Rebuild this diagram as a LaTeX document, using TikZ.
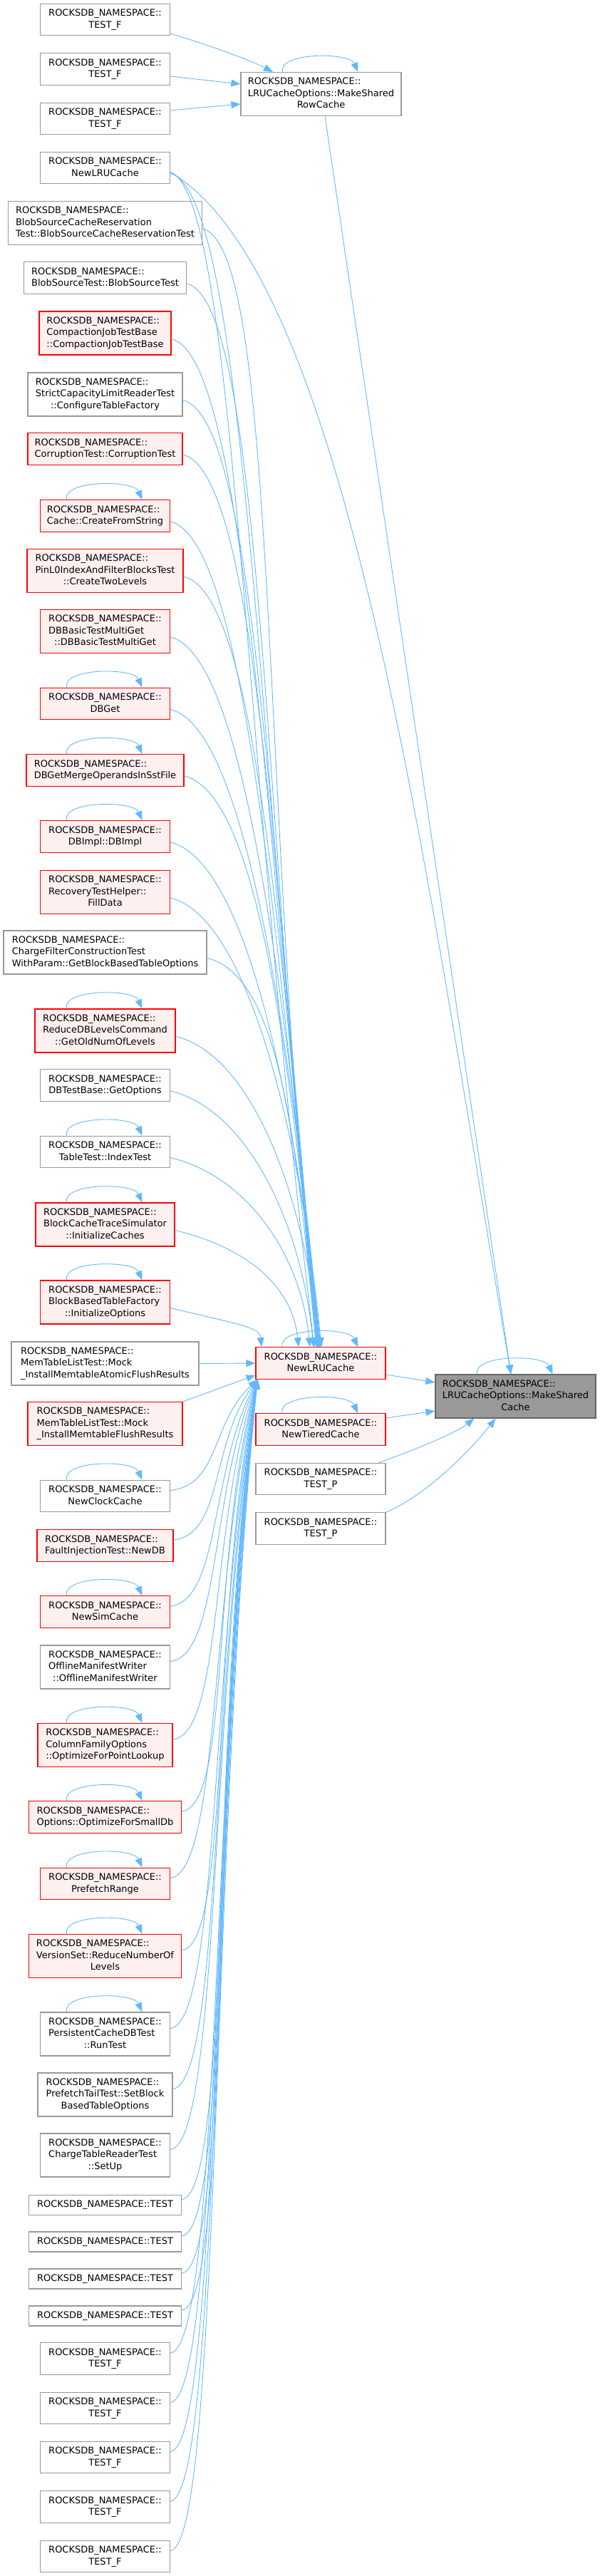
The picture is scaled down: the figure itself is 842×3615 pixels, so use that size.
\documentclass[tikz,border=0pt]{standalone}
\usepackage{fontspec}
\setmainfont{DejaVu Sans}
\usetikzlibrary{arrows.meta, calc}
\definecolor{edgeblue}{HTML}{63B8FF}
\definecolor{boxgray}{HTML}{999999}
\definecolor{maingray}{HTML}{666666}
\definecolor{trunred}{HTML}{FF0000}
\definecolor{trunfill}{HTML}{FFF0F0}

\newcommand{\rns}{ROCKSDB\_NAMESPACE::}
\newcommand{\lone}[1]{\begin{tabular}{@{}c@{}}#1\end{tabular}}
\newcommand{\ltwo}[2]{\begin{tabular}{@{}l@{}}#1\\\multicolumn{1}{@{}c@{}}{#2}\end{tabular}}
\newcommand{\lthree}[3]{\begin{tabular}{@{}l@{}}#1\\#2\\\multicolumn{1}{@{}c@{}}{#3}\end{tabular}}
\newcommand{\selfcall}[1]{\draw[call] ([xshift=-54pt]#1.north) .. controls +(-6,-28) and +(-12,-28) .. ([xshift=52pt]#1.north);}

\begin{document}
\begin{tikzpicture}[x=1pt, y=-1pt,
    fn/.style={draw=boxgray, fill=white, line width=1.1pt, minimum width=182pt,
      inner xsep=3pt, inner ysep=5.75pt, font=\fontsize{13}{16.5}\selectfont},
    cut/.style={fn, draw=trunred, fill=trunfill},
    cur/.style={fn, draw=maingray, fill=boxgray},
    call/.style={draw=edgeblue, line width=0.9pt, -{Triangle[length=13pt, width=10pt]}}]
  \useasboundingbox (0,0) rectangle (842,3615);
  \def\cx{147.5}

  % callers, left column
  \node[fn] (rowtfa) at (\cx,27.5) {\ltwo{\rns}{TEST\_F}};
  \node[fn] (rowtfb) at (\cx,97) {\ltwo{\rns}{TEST\_F}};
  \node[fn] (rowtfc) at (\cx,166.5) {\ltwo{\rns}{TEST\_F}};
  \node[fn] (lruold) at (\cx,235.5) {\ltwo{\rns}{NewLRUCache}};
  \node[fn, minimum width=272pt] (blobres) at (\cx,313) {\lthree{\rns}{BlobSourceCacheReservation}{Test::BlobSourceCacheReservationTest}};
  \node[fn, minimum width=228pt] (blobsrc) at (\cx,390) {\ltwo{\rns}{BlobSourceTest::BlobSourceTest}};
  \node[cut, minimum width=185pt] (compjob) at (\cx,467.5) {\lthree{\rns}{CompactionJobTestBase}{::CompactionJobTestBase}};
  \node[fn, minimum width=217pt] (strictcap) at (\cx,553.5) {\lthree{\rns}{StrictCapacityLimitReaderTest}{::ConfigureTableFactory}};
  \node[cut, minimum width=217pt] (corrupt) at (\cx,630) {\ltwo{\rns}{CorruptionTest::CorruptionTest}};
  \node[cut] (fromstr) at (\cx,724) {\ltwo{\rns}{Cache::CreateFromString}};
  \node[cut, minimum width=219pt] (pinl0) at (\cx,801) {\lthree{\rns}{PinL0IndexAndFilterBlocksTest}{::CreateTwoLevels}};
  \node[cut] (multiget) at (\cx,886) {\lthree{\rns}{DBBasicTestMultiGet}{::DBBasicTestMultiGet}};
  \node[cut] (dbget) at (\cx,987.5) {\ltwo{\rns}{DBGet}};
  \node[cut, minimum width=221pt] (mergeops) at (\cx,1081) {\ltwo{\rns}{DBGetMergeOperandsInSstFile}};
  \node[cut] (dbimpl) at (\cx,1174) {\ltwo{\rns}{DBImpl::DBImpl}};
  \node[cut] (filldata) at (\cx,1252) {\lthree{\rns}{RecoveryTestHelper::}{FillData}};
  \node[fn, minimum width=285pt] (chargefilter) at (\cx,1336.5) {\lthree{\rns}{ChargeFilterConstructionTest}{WithParam::GetBlockBasedTableOptions}};
  \node[cut, minimum width=197pt] (reducedb) at (\cx,1446.5) {\lthree{\rns}{ReduceDBLevelsCommand}{::GetOldNumOfLevels}};
  \node[fn] (getopts) at (\cx,1523) {\ltwo{\rns}{DBTestBase::GetOptions}};
  \node[fn] (indextest) at (\cx,1616.5) {\ltwo{\rns}{TableTest::IndexTest}};
  \node[cut, minimum width=195pt] (initcaches) at (\cx,1718.5) {\lthree{\rns}{BlockCacheTraceSimulator}{::InitializeCaches}};
  \node[cut] (initopts) at (\cx,1827.5) {\lthree{\rns}{BlockBasedTableFactory}{::InitializeOptions}};
  \node[fn, minimum width=263pt] (atomicflush) at (\cx,1913.5) {\lthree{\rns}{MemTableListTest::Mock}{\_InstallMemtableAtomicFlushResults}};
  \node[cut, minimum width=217pt] (flushres) at (\cx,1998) {\lthree{\rns}{MemTableListTest::Mock}{\_InstallMemtableFlushResults}};
  \node[fn] (clockcache) at (\cx,2099.5) {\ltwo{\rns}{NewClockCache}};
  \node[cut, minimum width=191pt] (newdb) at (\cx,2169) {\ltwo{\rns}{FaultInjectionTest::NewDB}};
  \node[cut] (simcache) at (\cx,2262) {\ltwo{\rns}{NewSimCache}};
  \node[fn] (offmanifest) at (\cx,2339.5) {\lthree{\rns}{OfflineManifestWriter}{::OfflineManifestWriter}};
  \node[cut, minimum width=189pt] (pointlookup) at (\cx,2449) {\lthree{\rns}{ColumnFamilyOptions}{::OptimizeForPointLookup}};
  \node[cut, minimum width=214pt] (smalldb) at (\cx,2550) {\ltwo{\rns}{Options::OptimizeForSmallDb}};
  \node[cut] (prefetch) at (\cx,2643.5) {\ltwo{\rns}{PrefetchRange}};
  \node[cut, minimum width=214pt] (reducelevels) at (\cx,2745) {\lthree{\rns}{VersionSet::ReduceNumberOf}{Levels}};
  \node[fn] (runtest) at (\cx,2854.5) {\lthree{\rns}{PersistentCacheDBTest}{::RunTest}};
  \node[fn, minimum width=189pt] (tailtest) at (\cx,2939.5) {\lthree{\rns}{PrefetchTailTest::SetBlock}{BasedTableOptions}};
  \node[fn] (setup) at (\cx,3024.5) {\lthree{\rns}{ChargeTableReaderTest}{::SetUp}};
  \node[fn, minimum width=214pt] (testa) at (\cx,3094.5) {\lone{\rns TEST}};
  \node[fn, minimum width=214pt] (testb) at (\cx,3146) {\lone{\rns TEST}};
  \node[fn, minimum width=214pt] (testc) at (\cx,3198) {\lone{\rns TEST}};
  \node[fn, minimum width=214pt] (testd) at (\cx,3250) {\lone{\rns TEST}};
  \node[fn] (testfa) at (\cx,3310) {\ltwo{\rns}{TEST\_F}};
  \node[fn] (testfb) at (\cx,3379.5) {\ltwo{\rns}{TEST\_F}};
  \node[fn] (testfc) at (\cx,3448.5) {\ltwo{\rns}{TEST\_F}};
  \node[fn] (testfd) at (\cx,3518) {\ltwo{\rns}{TEST\_F}};
  \node[fn] (testfe) at (\cx,3587.5) {\ltwo{\rns}{TEST\_F}};

  % middle and right column
  \node[fn, minimum width=225pt] (rowcache) at (450.5,132) {\lthree{\rns}{LRUCacheOptions::MakeShared}{RowCache}};
  \node[cut] (lru) at (450,1913) {\ltwo{\rns}{NewLRUCache}};
  \node[cut] (tiered) at (450,2006) {\ltwo{\rns}{NewTieredCache}};
  \node[fn] (testpa) at (450,2075.5) {\ltwo{\rns}{TEST\_P}};
  \node[fn] (testpb) at (450,2145) {\ltwo{\rns}{TEST\_P}};
  \node[cur, minimum width=225pt] (main) at (723.5,1959.5) {\lthree{\rns}{LRUCacheOptions::MakeShared}{Cache}};

  % self calls
  \foreach \n in {fromstr, dbget, mergeops, dbimpl, reducedb, indextest, initcaches, initopts,
      clockcache, simcache, pointlookup, smalldb, prefetch, reducelevels, runtest,
      rowcache, lru, tiered, main}
    {\selfcall{\n}}

  % calls into MakeSharedRowCache
  \draw[call] ([yshift=-19.5pt]rowtfa.east) .. controls +(50,15) and +(-35,-18) .. ([xshift=-67.5pt]rowcache.north);
  \draw[call] ([yshift=-10pt]rowtfb.east) -- ([yshift=14pt]rowcache.west);
  \draw[call] ([yshift=11.5pt]rowtfc.east) -- ([yshift=-14pt]rowcache.west);

  % calls into NewLRUCache from above
  \foreach \s/\t in {lruold/-4, blobres/-6, blobsrc/-5, compjob/-4, strictcap/-3, corrupt/-2,
      fromstr/-4, pinl0/-2, multiget/-1, dbget/0, mergeops/-3, dbimpl/-1, filldata/1,
      chargefilter/-6, reducedb/-2, getopts/-10, indextest/-15, initcaches/-31, initopts/-83}
    {\draw[call] let \p1=([yshift=-8pt]\s.east), \p2=([xshift=\t pt]lru.north) in
      (\p1) .. controls +(105pt,-25pt) and ({\x2-0.05*((\y1)-(\y2))}, {\y2+0.5*((\y1)-(\y2))}) .. (\p2);}
  \draw[call] let \p1=([yshift=-6pt]lruold.east), \p2=([xshift=-9pt]lru.north) in
    (\p1) .. controls +(90pt,-30pt) and ({\x2-0.06*((\y1)-(\y2))}, {\y2+0.5*((\y1)-(\y2))}) .. (\p2);
  \draw[call] (atomicflush.east) -- (lru.west);
  \draw[call] (flushres.north east) -- ([yshift=6pt]lru.south west);

  % calls into NewLRUCache from below
  \foreach \s in {clockcache, newdb, simcache, offmanifest, pointlookup, smalldb, prefetch,
      reducelevels, runtest, tailtest, setup, testa, testb, testc, testd,
      testfa, testfb, testfc, testfd, testfe}
    {\draw[call] let \p1=([yshift=8pt]\s.east), \p2=([xshift=3pt]lru.south west) in
      (\p1) .. controls +(70pt,8pt) and (295pt, {\y2-0.4*((\y2)-(\y1))}) .. (\p2);}

  % calls into MakeSharedCache
  \draw[call] ([yshift=-6pt]lruold.east) .. controls +(250,148) and +(-119,-700) .. ([xshift=-6.5pt]main.north);
  \draw[call] ([xshift=5.5pt]rowcache.south) -- ([xshift=-6.5pt]main.north);
  \draw[call] ([yshift=-16pt]lru.east) -- ([yshift=19.5pt]main.west);
  \draw[call] ([yshift=16pt]tiered.east) -- ([yshift=-20.5pt]main.west);
  \draw[call] ([xshift=-10pt]testpa.north east) .. controls +(50,-18) and +(-25,20) .. ([xshift=-58pt]main.south);
  \draw[call] (testpb.north east) .. controls +(60,-25) and +(-30,38) .. ([xshift=-28pt]main.south);
\end{tikzpicture}
\end{document}
